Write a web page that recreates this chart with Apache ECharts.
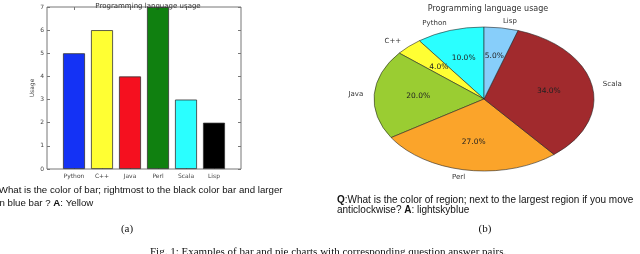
<!DOCTYPE html>
<html>
<head>
<meta charset="utf-8">
<script src="https://cdn.jsdelivr.net/npm/echarts@6/dist/echarts.min.js"></script>
<style>html,body{margin:0;padding:0;background:#fff}#c{width:640px;height:254px}</style>
</head>
<body>
<div id="c"></div>
<script>
// ---- data ----
const categories = ['Python', 'C++', 'Java', 'Perl', 'Scala', 'Lisp'];
const barValues = [5, 6, 4, 7, 3, 2];
const barColors = ['#1432f5', '#ffff33', '#f5101f', '#108010', '#2affff', '#000000'];
const yTicks = [0, 1, 2, 3, 4, 5, 6, 7];
const pieLabels = ['Python', 'C++', 'Java', 'Perl', 'Scala', 'Lisp'];
const pieValues = [10, 4, 20, 27, 34, 5];
const pieColors = ['#2affff', '#ffff33', '#9acd32', '#fba42a', '#a12a2d', '#87cefa'];
const barTitle = 'Programming language usage';
const pieTitle = 'Programming language usage';
const yName = 'Usage';

const chart = echarts.init(document.getElementById('c'), null, {renderer: 'canvas'});

// pie geometry (elliptical, like a non-equal-aspect matplotlib pie)
const PCX = 484, PCY = 99, RX = 110, RY = 72;
const total = pieValues.reduce((a, b) => a + b, 0);
const starts = [];
let acc = 0;
pieValues.forEach(v => { starts.push(acc); acc += v; });

function renderPie(params, api) {
  const i = params.dataIndex;
  const v = api.value(0);
  const a0 = Math.PI / 2 + starts[i] / total * Math.PI * 2;
  const a1 = a0 + v / total * Math.PI * 2;
  const am = (a0 + a1) / 2;
  const c = Math.cos(am), s = Math.sin(am);
  const pct = (v / total * 100).toFixed(1) + '%';
  return {
    type: 'group',
    children: [
      {
        type: 'sector',
        x: PCX, y: PCY, scaleX: 1, scaleY: RY / RX,
        shape: {cx: 0, cy: 0, r0: 0, r: RX, startAngle: -a1, endAngle: -a0, clockwise: true},
        style: {fill: pieColors[i], stroke: '#222', lineWidth: 0.7, strokeNoScale: true}
      },
      {
        type: 'text',
        x: PCX + 0.6 * RX * c, y: PCY - 0.6 * RY * s,
        style: {text: pct, fontFamily: 'DejaVu Sans', fontSize: 7.5, fill: '#222', align: 'center', verticalAlign: 'middle'}
      },
      {
        type: 'text',
        x: PCX + 1.1 * RX * c, y: PCY - 1.1 * RY * s,
        style: {text: pieLabels[i], fontFamily: 'DejaVu Sans', fontSize: 7, fill: '#333', align: c > 0 ? 'left' : 'right', verticalAlign: 'middle'}
      }
    ]
  };
}

const smallFont = {fontFamily: 'DejaVu Sans', fontSize: 6, color: '#444'};

const option = {
  animation: false,
  title: [
    {text: barTitle, left: 143, top: -2, textAlign: 'center',
     textStyle: {fontFamily: 'DejaVu Sans', fontSize: 7, fontWeight: 'normal', color: '#333'}},
    {text: pieTitle, left: 483, top: 0, textAlign: 'center',
     textStyle: {fontFamily: 'DejaVu Sans', fontSize: 8, fontWeight: 'normal', color: '#333'}}
  ],
  grid: [
    {left: 47, top: 7, width: 194, height: 162, show: true, borderColor: '#777', borderWidth: 1, backgroundColor: 'transparent'},
    {left: 60, top: 7, width: 168, height: 162}
  ],
  xAxis: [
    {gridIndex: 0, type: 'value', min: 0, max: 1, show: false},
    {gridIndex: 1, type: 'category', data: categories, position: 'bottom',
     axisLine: {show: false},
     axisTick: {show: true, inside: true, alignWithLabel: true, length: 3, lineStyle: {color: '#777'}},
     axisLabel: Object.assign({margin: 4}, smallFont)},
    {gridIndex: 1, type: 'category', data: categories, position: 'top',
     axisLine: {show: false},
     axisTick: {show: true, inside: true, alignWithLabel: true, length: 3, lineStyle: {color: '#777'}},
     axisLabel: {show: false}}
  ],
  yAxis: [
    {gridIndex: 0, type: 'value', min: yTicks[0], max: yTicks[yTicks.length - 1], interval: 1,
     name: yName, nameLocation: 'middle', nameGap: 12, nameTextStyle: smallFont,
     axisLine: {show: false}, splitLine: {show: false},
     axisTick: {show: true, inside: true, length: 3, lineStyle: {color: '#777'}},
     axisLabel: Object.assign({margin: 3}, smallFont)},
    {gridIndex: 0, type: 'value', position: 'right', min: yTicks[0], max: yTicks[yTicks.length - 1], interval: 1,
     axisLine: {show: false}, splitLine: {show: false},
     axisTick: {show: true, inside: true, length: 3, lineStyle: {color: '#777'}},
     axisLabel: {show: false}},
    {gridIndex: 1, type: 'value', min: yTicks[0], max: yTicks[yTicks.length - 1], show: false}
  ],
  series: [
    {
      type: 'bar', xAxisIndex: 1, yAxisIndex: 2, barWidth: 22,
      data: barValues.map((v, i) => ({value: v, itemStyle: {color: barColors[i]}})),
      itemStyle: {borderColor: '#333', borderWidth: 0.8}
    },
    {
      type: 'custom', coordinateSystem: 'none',
      data: pieValues.map(v => [v]),
      renderItem: renderPie
    }
  ],
  graphic: [
    {type: 'text', left: -12, top: 185, style: {
      text: '{b|Q:}What is the color of bar; rightmost to the black color bar and larger',
      fontFamily: 'Liberation Sans', fontSize: 9.7, fill: '#111',
      rich: {b: {fontWeight: 'bold', fontFamily: 'Liberation Sans', fontSize: 9.7}}}},
    {type: 'text', left: -14, top: 198, style: {
      text: 'than blue bar ? {b|A}: Yellow',
      fontFamily: 'Liberation Sans', fontSize: 9.7, fill: '#111',
      rich: {b: {fontWeight: 'bold', fontFamily: 'Liberation Sans', fontSize: 9.7}}}},
    {type: 'text', left: 337, top: 195, style: {
      text: '{b|Q}:What is the color of region; next to the largest region if you move',
      fontFamily: 'Liberation Sans', fontSize: 10, fill: '#111',
      rich: {b: {fontWeight: 'bold', fontFamily: 'Liberation Sans', fontSize: 10}}}},
    {type: 'text', left: 337, top: 205, style: {
      text: 'anticlockwise? {b|A}: lightskyblue',
      fontFamily: 'Liberation Sans', fontSize: 10, fill: '#111',
      rich: {b: {fontWeight: 'bold', fontFamily: 'Liberation Sans', fontSize: 10}}}},
    {type: 'text', x: 127, y: 229, style: {text: '(a)', fontFamily: 'Liberation Serif', fontSize: 11, fill: '#111', align: 'center', verticalAlign: 'middle'}},
    {type: 'text', x: 485, y: 229, style: {text: '(b)', fontFamily: 'Liberation Serif', fontSize: 11, fill: '#111', align: 'center', verticalAlign: 'middle'}},
    {type: 'text', left: 150, top: 247, style: {text: 'Fig. 1: Examples of bar and pie charts with corresponding question answer pairs.', fontFamily: 'Liberation Serif', fontSize: 11, fill: '#111'}}
  ]
};
chart.setOption(option);
</script>
</body>
</html>
